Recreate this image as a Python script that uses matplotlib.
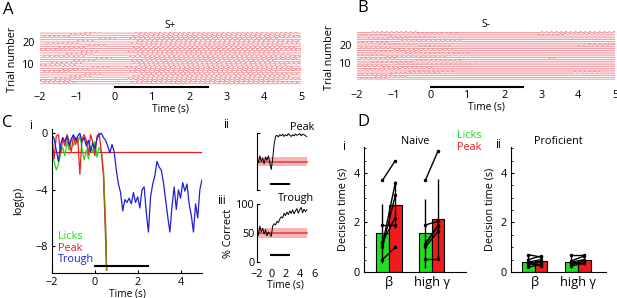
import numpy as np
import matplotlib
matplotlib.use('Agg')
from matplotlib import pyplot as plt

# ---- lick rasters (A, B): lick bouts per trial, licks every ~0.13 s inside a bout
lick_interval = 0.13
splus_pre_start = [-1.9, -2.0, -1.6, -1.2, -0.8, -1.9, -1.4, -0.6, -2.0, -1.7, -1.1, -0.5,
                   -1.9, -1.3, -0.9, -2.0, -1.5, -0.7, -1.8, -1.0, -0.4, -1.9, -1.2, -0.8]
splus_pre_end = [-1.0, -1.1, -0.9, -0.6, -0.3, -1.2, -0.7, -0.2, -1.0, -0.9, -0.5, -0.1,
                 -0.8, -0.6, -0.4, -1.1, -0.8, -0.2, -1.0, -0.5, 0.0, -1.2, -0.6, -0.3]
splus_onset = [0.45, 0.6, 0.35, 0.5, 0.7, 0.4, 0.55, 0.3, 0.65, 0.5, 0.45, 0.8,
               0.4, 0.6, 0.35, 0.55, 0.5, 0.7, 0.45, 0.6, 0.4, 0.5, 0.65, 0.55]
splus_offset = [4.9, 4.5, 5.0, 4.7, 4.95, 4.4, 5.0, 4.8, 4.6, 5.0, 4.3, 4.9,
                5.0, 4.7, 4.5, 5.0, 4.8, 4.6, 5.0, 4.9, 4.4, 5.0, 4.7, 4.9]

sminus_start = [-1.9, -1.5, -2.0, -1.1, -0.6, -1.8, -1.3, -2.0, -0.9, -1.6, -0.4, -1.9, -1.2, -2.0,
                -0.7, -1.5, -1.0, -1.9, -0.3, -1.4, -2.0, -0.8, -1.7, -1.1, -1.9, -0.5, -1.6]
sminus_end = [-1.2, -0.6, -1.0, 0.3, 0.6, -0.8, 0.1, -1.1, 1.2, -0.5, 0.9, -0.9, 0.4, -1.3,
              1.0, -0.2, 0.6, -1.0, 0.5, -0.4, -1.2, 0.8, -0.6, 0.2, -1.0, 0.7, -0.3]
sminus_late_trial = [5, 12, 19, 20, 25, 26, 27]
sminus_late_start = [3.9, 3.2, 4.0, 4.3, 2.9, 3.5, 3.0]
sminus_late_end = [4.6, 3.4, 4.8, 5.0, 3.6, 4.8, 5.0]

# ---- C i: log(p) traces
t_blue = np.round(np.arange(-2.0, 5.01, 0.1), 2)
logp_trough = [-0.1, -0.4, -1.2, -2.0, -0.8, -0.3, -0.6, -0.2, -0.9, -0.4,
               -0.1, -0.5, -0.2, 0.0, -0.6, -0.3, -0.9, -0.5, -1.3, -0.7,
               -1.1, -0.4, -0.1, 0.0, -0.3, -0.5, -0.9, -1.4, -0.8, -1.3,
               -2.6, -3.6, -4.2, -5.5, -4.7, -4.9, -4.6, -5.0, -4.2, -4.9,
               -4.5, -5.3, -4.0, -3.8, -5.6, -7.0, -4.5, -3.6, -3.0, -2.0,
               -2.4, -2.6, -3.5, -4.7, -5.9, -7.0, -5.2, -3.8, -5.4, -4.0,
               -4.6, -3.5, -4.1, -3.6, -5.0, -5.8, -7.0, -5.0, -6.0, -4.0, -3.3]
t_early = [-2.0, -1.9, -1.8, -1.7, -1.6, -1.5, -1.4, -1.3, -1.2, -1.1, -1.0, -0.9, -0.8, -0.7,
           -0.6, -0.5, -0.4, -0.3, -0.2, -0.1, 0.0, 0.1, 0.2, 0.3, 0.4, 0.5, 0.55]
logp_licks = [-1.4, -2.0, -2.6, -2.2, -1.5, -1.0, -1.6, -0.6, -1.2, -0.4, -0.9, -0.3, -0.7, -0.2,
              -1.1, -1.9, -1.2, -1.8, -0.9, -1.4, -0.6, -1.7, -1.0, -1.3, -2.6, -6.5, -9.7]
logp_peak = [-0.3, -1.8, -0.2, -0.1, -1.4, -0.4, -0.9, -0.1, -0.6, -1.3, -0.2, -0.8, -0.3, -2.9,
             -0.4, -0.1, -0.5, -1.5, -0.1, -0.6, -1.6, -0.2, 0.0, -1.3, -3.0, -7.5, -9.7]
logp_thresh = -1.3

# ---- C ii, iii: % correct
t_pc = np.round(np.arange(-2.0, 5.01, 0.2), 2)
pc_peak = [55, 48, 60, 50, 56, 46, 58, 52, 60, 48, 36, 55, 80, 94, 96, 93, 97, 95,
           98, 94, 97, 95, 99, 96, 94, 97, 95, 98, 96, 97, 99, 95, 98, 97, 95, 94]
pc_trough = [60, 46, 62, 52, 58, 48, 56, 45, 52, 48, 44, 62, 66, 64, 70, 68, 74, 78,
             76, 84, 80, 86, 82, 88, 84, 90, 83, 88, 92, 84, 90, 94, 85, 91, 87, 90]
chance_mean, chance_ci = 50, 8

# ---- D: decision times (s), per animal, licks vs peak
bands = ['β', 'high γ']
naive_licks = [[3.7, 1.9, 1.1, 1.0, 1.2, 0.5], [3.7, 1.9, 1.1, 1.15, 1.0, 0.53]]
naive_peak = [[4.5, 1.9, 3.6, 3.1, 2.2, 1.0], [4.9, 2.05, 1.85, 1.9, 1.65, 0.53]]
naive_err_licks = [1.2, 1.4]
naive_err_peak = [0.95, 1.6]
prof_licks = [[0.7, 0.5, 0.4, 0.3, 0.2, 0.35], [0.7, 0.45, 0.4, 0.3, 0.25, 0.35]]
prof_peak = [[0.6, 0.65, 0.5, 0.4, 0.3, 0.25], [0.7, 0.65, 0.5, 0.45, 0.35, 0.35]]
prof_err_licks = [0.25, 0.25]
prof_err_peak = [0.2, 0.2]

GREEN = '#22dd22'
RED = '#ee1c1c'
BLUE = '#2020d8'
RASTER = '#f07f88'
FS = 7.3

plt.rcParams['font.family'] = ['Open Sans', 'DejaVu Sans']
plt.rcParams['font.size'] = FS
plt.rcParams['xtick.direction'] = 'in'
plt.rcParams['ytick.direction'] = 'in'
plt.rcParams['xtick.major.size'] = 2
plt.rcParams['ytick.major.size'] = 2
plt.rcParams['ytick.minor.size'] = 1.5
plt.rcParams['axes.linewidth'] = 0.8

W, H = 617, 298
fig = plt.figure(figsize=(W / 100, H / 100), dpi=100)


def px_axes(x0, y0, x1, y1):
    return fig.add_axes([x0 / W, 1 - y1 / H, (x1 - x0) / W, (y1 - y0) / H])


def trial_trace(bouts, y):
    # one polyline per trial: baseline with a small spike at every lick
    xs, ys = [-2.0], [y]
    licks = np.sort(np.concatenate([np.arange(s, e, lick_interval) for s, e in bouts]))
    for t in licks:
        xs += [t, t + 0.02, t + 0.05]
        ys += [y, y + 0.75, y]
    xs.append(5.0)
    ys.append(y)
    return xs, ys


def draw_raster(ax, bouts_per_trial, title):
    for i, bouts in enumerate(bouts_per_trial):
        xs, ys = trial_trace(bouts, i + 1)
        ax.plot(xs, ys, color=RASTER, lw=0.55)
    ax.set_xlim(-2, 5)
    for sp in ax.spines.values():
        sp.set_visible(False)
    ax.set_xticks(range(-2, 6))
    ax.set_yticks([10, 20])
    ax.tick_params(length=0, labelsize=FS + 0.5, pad=4)
    ax.set_xlabel('Time (s)', fontsize=FS, labelpad=1)
    ax.set_ylabel('Trial number', fontsize=FS + 0.5, labelpad=3)
    ax.set_title(title, fontsize=FS, pad=3)


# A: S+ raster
axA = px_axes(40, 32, 301, 86)
splus = [[(splus_pre_start[i], splus_pre_end[i]), (splus_onset[i], splus_offset[i])]
         for i in range(len(splus_onset))]
draw_raster(axA, splus, 'S+')
axA.set_ylim(0, 24.5)
axA.plot([0, 2.5], [-0.5, -0.5], color='k', lw=1.5, clip_on=False)

# B: S- raster
axB = px_axes(357, 31, 615, 84)
sminus = [[(sminus_start[i], sminus_end[i])] for i in range(len(sminus_start))]
for k, tr in enumerate(sminus_late_trial):
    sminus[tr - 1].append((sminus_late_start[k], sminus_late_end[k]))
draw_raster(axB, sminus, 'S-')
axB.set_ylim(-1.67, 27.8)
axB.plot([0, 2.5], [-3.3, -3.3], color='k', lw=1.5, clip_on=False)

# C i: log(p)
axC = px_axes(52, 129, 202, 273)
axC.axhline(logp_thresh, color=RED, lw=0.9)
axC.plot(t_early, logp_licks, color=GREEN, lw=0.9)
axC.plot(t_early, logp_peak, color=RED, lw=0.9)
axC.plot(t_early[-3:], logp_licks[-3:], color='#8a7a10', lw=0.9)
axC.plot(t_blue, logp_trough, color=BLUE, lw=0.9)
axC.plot([0, 2.5], [-9.43, -9.43], color='k', lw=1.5)
axC.set_xlim(-2, 5)
axC.set_ylim(-9.9, 0.3)
axC.set_xticks([-2, 0, 2, 4])
axC.set_yticks([0, -4, -8])
axC.spines[['top', 'right']].set_visible(False)
axC.tick_params(labelsize=FS + 0.5, pad=3)
axC.set_xlabel('Time (s)', fontsize=FS, labelpad=0)
axC.set_ylabel('log(p)', fontsize=FS + 0.5, labelpad=8)
axC.text(0.04, 0.255, 'Licks', color=GREEN, transform=axC.transAxes, fontsize=FS + 0.5, va='center')
axC.text(0.04, 0.172, 'Peak', color=RED, transform=axC.transAxes, fontsize=FS + 0.5, va='center')
axC.text(0.04, 0.095, 'Trough', color=BLUE, transform=axC.transAxes, fontsize=FS + 0.5, va='center')


def pc_panel(ax, values, title, labels, bar_y):
    ax.fill_between([-2, 5], chance_mean - chance_ci, chance_mean + chance_ci,
                    color='#f7b3b3', lw=0)
    ax.plot([-2, 5], [chance_mean, chance_mean], color='#e04848', lw=1.2)
    ax.plot(t_pc, values, color='k', lw=0.7)
    ax.plot([0, 2.5], [bar_y, bar_y], color='k', lw=1.5)
    ax.set_xlim(-2, 6)
    ax.set_ylim(0, 100)
    ax.spines[['top', 'right', 'bottom']].set_visible(False)
    ax.set_xticks([-2, 0, 2, 4, 6])
    ax.set_yticks([0, 50, 100])
    ax.tick_params(axis='x', length=0, pad=5)
    ax.tick_params(labelsize=FS + 0.5)
    ax.tick_params(axis='y', pad=2)
    ax.set_title(title, fontsize=FS + 0.5, pad=1, loc='right')
    if not labels:
        ax.set_xticklabels([])
        ax.set_yticklabels([])


axCii = px_axes(257, 133, 314, 190)
pc_panel(axCii, pc_peak, 'Peak', False, 10)
axCiii = px_axes(257, 204, 314, 262)
pc_panel(axCiii, pc_trough, 'Trough', True, 12)
axCiii.set_xlabel('Time (s)', fontsize=FS, labelpad=0)
axCiii.set_ylabel('% Correct', fontsize=FS + 0.5, labelpad=1)


def decision_panel(ax, licks, peak, err_l, err_p, title):
    pos = np.arange(1, len(bands) + 1)
    off = 0.15
    ml = [np.mean(v) for v in licks]
    mp = [np.mean(v) for v in peak]
    ax.bar(pos - off, ml, width=0.29, color=GREEN, edgecolor='k', lw=0.8, zorder=1)
    ax.bar(pos + off, mp, width=0.29, color=RED, edgecolor='k', lw=0.8, zorder=1)
    ax.errorbar(pos - off, ml, yerr=err_l, fmt='none', ecolor='k', elinewidth=1, capsize=0, zorder=2)
    ax.errorbar(pos + off, mp, yerr=err_p, fmt='none', ecolor='k', elinewidth=1, capsize=0, zorder=2)
    for j, p in enumerate(pos):
        for a, b in zip(licks[j], peak[j]):
            ax.plot([p - off, p + off], [a, b], color='k', lw=1, marker='.', ms=3, zorder=3)
    ax.set_ylim(0, 5.05)
    ax.set_xticks(pos)
    ax.set_xticklabels(bands, fontsize=FS + 2)
    ax.set_yticks([0, 2, 4])
    ax.set_yticks(np.arange(0, 5.01, 0.5), minor=True)
    ax.spines[['top', 'right']].set_visible(False)
    ax.tick_params(axis='x', length=0, pad=3)
    ax.tick_params(axis='y', labelsize=FS + 0.5, pad=3)
    ax.set_ylabel('Decision time (s)', fontsize=FS + 0.5, labelpad=4)
    ax.set_title(title, fontsize=FS + 0.5, pad=2)


axDi = px_axes(364, 147, 466, 272)
decision_panel(axDi, naive_licks, naive_peak, naive_err_licks, naive_err_peak, 'Naive')
axDi.set_xlim(0.42, 2.8)
axDii = px_axes(511, 147, 606, 272)
decision_panel(axDii, prof_licks, prof_peak, prof_err_licks, prof_err_peak, 'Proficient')
axDii.set_xlim(0.45, 2.65)

# panel letters and sub-labels
for s, x, y, fs in [('A', 8, 10, 12), ('B', 363, 8, 12), ('C', 7, 123, 12), ('D', 363, 122, 12),
                    ('i', 31, 126, 8.5), ('ii', 226, 124, 8.5), ('iii', 221, 200, 8.5),
                    ('i', 344, 146, 8.5), ('ii', 498, 145, 8.5)]:
    fig.text(x / W, 1 - y / H, s, fontsize=fs, ha='center', va='center')
fig.text(469 / W, 1 - 135 / H, 'Licks', color=GREEN, fontsize=FS + 0.5, ha='center', va='center')
fig.text(469 / W, 1 - 147 / H, 'Peak', color=RED, fontsize=FS + 0.5, ha='center', va='center')

fig.savefig('out.png', dpi=100)
